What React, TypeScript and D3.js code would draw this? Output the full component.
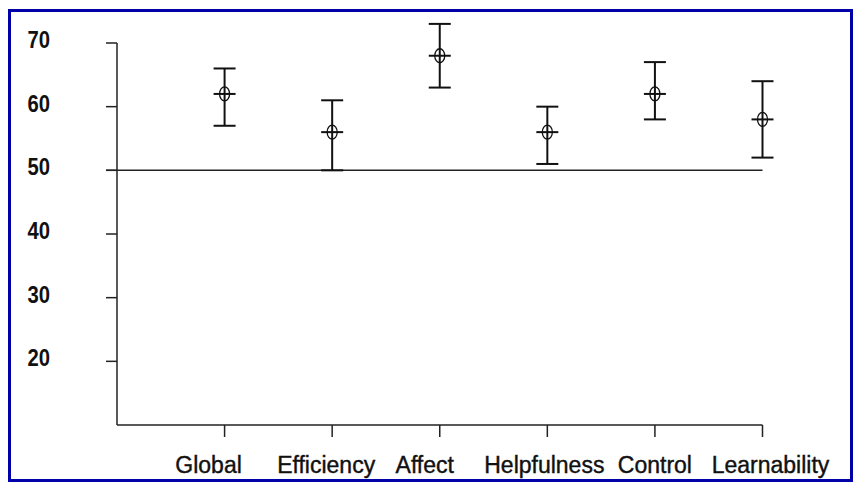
import React, { useEffect, useRef } from "react";
import * as d3 from "d3";

const categories = ["Global", "Efficiency", "Affect", "Helpfulness", "Control", "Learnability"];
const means = [62, 56, 68, 56, 62, 58];
const upper = [66, 61, 73, 60, 67, 64];
const lower = [57, 50, 63, 51, 58, 52];
const yTicks = [20, 30, 40, 50, 60, 70];
const referenceValue = 50;
// label centres are not exactly under the ticks in the original
const labelNudge = [-16, -6, -15, -3, 0, 8];

const App = () => {
  const svgRef = useRef<SVGSVGElement | null>(null);

  useEffect(() => {
    const svg = d3.select(svgRef.current);
    svg.selectAll("*").remove();

    const left = 117;
    const right = 762.5;
    const top = 43;
    const bottom = 425;

    const x = d3.scaleLinear().domain([0, categories.length]).range([left, right]);
    const y = d3.scaleLinear().domain([10, 70]).range([bottom, top]);

    // blue frame
    svg
      .append("rect")
      .attr("x", 9.5)
      .attr("y", 10.5)
      .attr("width", 842)
      .attr("height", 470)
      .attr("fill", "white")
      .attr("stroke", "#0000a8")
      .attr("stroke-width", 3);

    const g = svg.append("g");

    // y axis
    g.append("line")
      .attr("x1", left)
      .attr("x2", left)
      .attr("y1", y(70))
      .attr("y2", bottom)
      .attr("stroke", "#222")
      .attr("stroke-width", 1.5);

    g.selectAll(".ytick")
      .data(yTicks)
      .join("line")
      .attr("x1", left - 11)
      .attr("x2", left)
      .attr("y1", (d) => y(d))
      .attr("y2", (d) => y(d))
      .attr("stroke", "#222")
      .attr("stroke-width", 1.5);

    // narrow bold digits, squeezed horizontally
    g.selectAll(".ylab")
      .data(yTicks)
      .join("text")
      .attr("transform", (d) => `translate(50,${y(d) + 5}) scale(0.88,1)`)
      .attr("text-anchor", "end")
      .attr("font-family", "'Liberation Sans', Arial, sans-serif")
      .attr("font-weight", "bold")
      .attr("font-size", 23)
      .attr("fill", "#111")
      .text((d) => d);

    // x axis
    g.append("line")
      .attr("x1", left)
      .attr("x2", right)
      .attr("y1", bottom)
      .attr("y2", bottom)
      .attr("stroke", "#222")
      .attr("stroke-width", 1.5);

    g.selectAll(".xtick")
      .data(categories)
      .join("line")
      .attr("x1", (d, i) => x(i + 1))
      .attr("x2", (d, i) => x(i + 1))
      .attr("y1", bottom)
      .attr("y2", bottom + 12)
      .attr("stroke", "#222")
      .attr("stroke-width", 1.5);

    g.selectAll(".xlab")
      .data(categories)
      .join("text")
      .attr("x", (d, i) => x(i + 1) + labelNudge[i])
      .attr("y", 473)
      .attr("text-anchor", "middle")
      .attr("font-family", "'Liberation Sans', Arial, sans-serif")
      .attr("font-size", 23)
      .attr("fill", "#111")
      .attr("stroke", "#111")
      .attr("stroke-width", 0.4)
      .text((d) => d);

    // reference line at 50
    g.append("line")
      .attr("x1", left - 11)
      .attr("x2", right)
      .attr("y1", y(referenceValue))
      .attr("y2", y(referenceValue))
      .attr("stroke", "#222")
      .attr("stroke-width", 1.5);

    // error bars
    const bars = g
      .selectAll(".bar")
      .data(categories)
      .join("g")
      .attr("transform", (d, i) => `translate(${x(i + 1)},0)`);

    bars
      .append("line")
      .attr("y1", (d, i) => y(upper[i]))
      .attr("y2", (d, i) => y(lower[i]))
      .attr("stroke", "#111")
      .attr("stroke-width", 2);

    const cap = 11;
    bars
      .append("line")
      .attr("x1", -cap)
      .attr("x2", cap)
      .attr("y1", (d, i) => y(upper[i]))
      .attr("y2", (d, i) => y(upper[i]))
      .attr("stroke", "#111")
      .attr("stroke-width", 2);

    bars
      .append("line")
      .attr("x1", -cap)
      .attr("x2", cap)
      .attr("y1", (d, i) => y(lower[i]))
      .attr("y2", (d, i) => y(lower[i]))
      .attr("stroke", "#111")
      .attr("stroke-width", 2);

    bars
      .append("line")
      .attr("x1", -cap)
      .attr("x2", cap)
      .attr("y1", (d, i) => y(means[i]))
      .attr("y2", (d, i) => y(means[i]))
      .attr("stroke", "#111")
      .attr("stroke-width", 2);

    bars
      .append("ellipse")
      .attr("cx", 0)
      .attr("cy", (d, i) => y(means[i]))
      .attr("rx", 5)
      .attr("ry", 7)
      .attr("fill", "none")
      .attr("stroke", "#111")
      .attr("stroke-width", 1.3);
  }, []);

  return (
    <svg
      ref={svgRef}
      width={855}
      height={484}
      style={{ position: "absolute", left: 0, top: 0, display: "block" }}
    />
  );
};

export default App;
